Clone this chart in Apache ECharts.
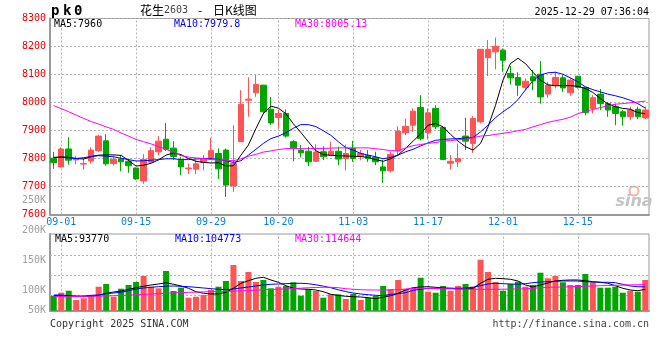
<!DOCTYPE html>
<html><head><meta charset="utf-8">
<script src="https://cdn.jsdelivr.net/npm/echarts@6/dist/echarts.min.js"></script>
<style>html,body{margin:0;padding:0;background:#fff}#c{width:660px;height:360px}</style>
</head><body><div id="c"></div>
<script>
const dates = ['08-29',
 '09-01','09-02','09-03','09-04','09-05','09-08','09-09','09-10','09-11','09-12','09-15','09-16','09-17','09-18','09-19','09-22','09-23','09-24','09-25','09-26','09-29','09-30',
 '10-09','10-10','10-13','10-14','10-15','10-16','10-17','10-20','10-21','10-22','10-23','10-24','10-27','10-28','10-29','10-30','10-31',
 '11-03','11-04','11-05','11-06','11-07','11-10','11-11','11-12','11-13','11-14','11-17','11-18','11-19','11-20','11-21','11-24','11-25','11-26','11-27','11-28',
 '12-01','12-02','12-03','12-04','12-05','12-08','12-09','12-10','12-11','12-12','12-15','12-16','12-17','12-18','12-19','12-22','12-23','12-24','12-25','12-26'];
const dateLabels = ['09-01','09-15','09-29','10-20','11-03','11-17','12-01','12-15'];

const opens = [7801,7770,7834,7795,7780,7791,7828,7863,7782,7798,
 7790,7766,7720,7787,7824,7869,7837,7794,7763,7762,
 7786,7801,7818,7830,7702,7860,8008,8035,8062,7976,
 7946,7961,7860,7830,7826,7790,7824,7812,7826,7800,
 7836,7808,7811,7804,7770,7756,7827,7892,7919,7982,
 7892,7979,7911,7783,7788,7880,7854,7931,8160,8181,
 8187,8104,8089,8054,8092,8101,8030,8060,8088,8035,
 8094,8054,7979,8030,7996,7985,7967,7949,7976,7945];
const closes = [7785,7834,7794,7798,7782,7830,7880,7781,7797,7788,
 7774,7727,7797,7828,7862,7833,7807,7770,7766,7781,
 7800,7828,7763,7705,7782,7994,8012,8065,7967,7927,
 7961,7880,7838,7820,7788,7823,7806,7826,7798,7818,
 7800,7818,7800,7788,7756,7815,7898,7915,7969,7871,
 7963,7913,7796,7790,7800,7862,7943,8190,8190,8201,
 8151,8088,8062,8076,8077,8020,8062,8089,8052,8080,
 8054,7964,8017,7996,7973,7961,7949,7973,7949,7973];
const lows = [7763,7769,7778,7780,7760,7782,7824,7774,7775,7754,
 7749,7724,7710,7782,7811,7827,7795,7740,7744,7744,
 7758,7798,7727,7663,7681,7860,7949,8020,7960,7919,
 7907,7875,7790,7804,7773,7790,7794,7812,7776,7758,
 7788,7794,7788,7776,7713,7750,7812,7883,7895,7865,
 7868,7905,7796,7761,7770,7830,7820,7925,8094,8118,
 8110,8064,8024,8044,8044,7996,8017,8050,8038,8024,
 8050,7955,7961,7973,7949,7919,7917,7937,7940,7940];
const highs = [7824,7840,7876,7810,7800,7840,7884,7887,7812,7812,
 7800,7768,7815,7840,7880,7927,7862,7806,7782,7794,
 7812,7874,7836,7836,7919,8044,8090,8098,8063,8020,
 7973,7975,7865,7848,7842,7851,7844,7860,7842,7850,
 7863,7830,7830,7824,7794,7824,7915,7943,7979,8026,
 7979,7990,7913,7812,7854,7946,7951,8190,8223,8232,
 8193,8130,8108,8086,8116,8148,8074,8110,8098,8089,
 8094,8054,8026,8048,8002,7996,7973,7985,7985,7985];

const ma5 = [7804,7806,7804,7800,7798,7807,7812,7813,7813,7811,
 7793,7773,7776,7783,7795,7812,7820,7814,7800,7790,
 7786,7784,7785,7773,7774,7812,7848,7907,7961,7987,
 7980,7960,7924,7893,7860,7828,7814,7811,7810,7809,
 7808,7807,7804,7796,7790,7799,7813,7836,7862,7888,
 7919,7925,7913,7886,7862,7842,7830,7854,7913,7990,
 8080,8139,8158,8139,8108,8080,8063,8060,8060,8060,
 8058,8050,8036,8014,7995,7985,7979,7976,7964,7960];
const ma10 = [7803,7804,7802,7800,7803,7807,7810,7808,7806,7801,
 7796,7791,7792,7794,7796,7799,7799,7796,7796,7798,
 7800,7799,7797,7792,7786,7792,7812,7833,7854,7871,
 7880,7892,7908,7921,7921,7914,7899,7883,7860,7839,
 7830,7818,7812,7806,7799,7804,7812,7824,7833,7845,
 7856,7865,7868,7870,7871,7873,7875,7895,7919,7946,
 7967,7985,8010,8045,8078,8098,8106,8108,8101,8088,
 8074,8056,8046,8038,8030,8024,8017,8008,7996,7980];
const ma30 = [7989,7978,7967,7955,7943,7932,7923,7913,7904,7891,
 7880,7868,7860,7852,7843,7833,7822,7810,7805,7802,
 7800,7796,7795,7794,7792,7799,7808,7815,7823,7827,
 7832,7835,7836,7835,7835,7836,7836,7837,7838,7838,
 7838,7838,7838,7835,7832,7828,7828,7838,7846,7850,
 7854,7857,7862,7864,7867,7869,7874,7880,7882,7886,
 7890,7894,7899,7904,7913,7921,7929,7935,7940,7948,
 7960,7969,7975,7982,7988,7994,7996,7999,8002,8005];

const volumes = [66000,79200,88000,47000,54600,64700,105600,117500,61600,96800,
 113100,126300,152700,105600,98600,174700,86700,101200,57200,61600,
 69100,91100,105600,130700,201100,130700,170300,126300,135100,98600,
 105600,108700,125000,66000,94200,86700,57200,72200,72200,51500,
 73500,47100,57200,64700,108700,95500,135100,95500,101200,145200,
 83600,79200,108700,88000,108700,117500,105600,224400,170300,126300,
 88000,117500,127600,105600,113100,167200,142600,152700,125000,113100,
 113100,161500,125000,101200,101200,105600,79200,88000,83600,135100];
const volMa5 = [66000,66000,64700,62900,61600,64700,67800,76600,82300,86700,
 94200,101200,107400,113100,117500,123200,116200,108700,98600,83600,
 76600,73500,73500,81000,98600,120600,132000,142600,147000,135100,
 125000,110000,98600,95500,94200,91100,83600,72200,67300,63400,
 61600,60300,57200,52800,59000,66000,76600,91100,101200,104300,
 105600,103000,99900,98600,96800,95500,98600,120600,138200,142600,
 140800,138200,130700,113100,104300,113100,121900,130700,133800,135100,
 135100,132000,127600,125000,120600,110000,98600,91100,88000,93770];
const volMa10 = [69100,69100,66000,64700,64700,67800,69100,74800,77900,81000,
 88000,95500,99900,103000,105600,107400,108700,107400,105600,103000,
 99900,96800,94200,92400,95500,99900,104300,108700,113100,116200,
 117500,118800,120600,120600,118800,114000,108000,101000,92000,84000,
 77900,73500,70400,67800,66000,72200,74800,79200,89800,94200,
 98600,98600,98600,98600,98600,99900,103000,110000,117500,120600,
 118800,117500,116200,118800,123200,126300,127600,129400,130700,130700,
 130700,127600,126300,125000,125000,123200,116200,108700,105600,104773];
const volMa30 = [61600,61600,62000,62500,62900,63400,64200,65100,66000,66900,
 68200,70000,71700,73500,75200,77000,78300,79600,81000,81800,
 82700,83600,84500,85400,86200,87100,88400,90200,92000,93300,
 94600,95900,97700,99000,100800,102100,103000,103000,101200,96800,
 94200,92400,91100,91100,91100,91100,92400,95500,98600,98600,
 98600,97700,96800,95900,95500,94600,94200,94200,94200,94200,
 94600,95000,95500,95900,98600,101200,102500,103400,104300,105200,
 106500,107400,108700,110000,110900,111800,112600,113500,114400,114644];

const priceMin = 7600, priceMax = 8300, priceStep = 100;
const volMax = 337500;
const volGridValues = [66000, 154000, 242000];
const volTickLabels = ['50K','100K','150K','200K','250K'];

const UP = '#ff5454', DOWN = '#00a600';
const MONO = 'DejaVu Sans Mono';
const GRIDC = '#b4b4b4';
const FRAME = '#9a9a9a';

const chart = echarts.init(document.getElementById('c'), null, {renderer: 'canvas'});

const dateLines = dateLabels.map(d => ({xAxis: d}));
const dotted = {type: [2, 2], color: GRIDC, width: 1};

function txt(x, y, text, fill, font, align) {
  return {type: 'text', x: x, y: y, silent: true, z: 100,
    style: {text: text, fill: fill, font: font, align: align || 'left', verticalAlign: 'middle',
            textAlign: align || 'left', textVerticalAlign: 'middle'}};
}

const option = {
  animation: false,
  backgroundColor: '#fff',
  grid: [
    {left: 50, width: 599, top: 18.5, height: 196, show: true, borderColor: FRAME, borderWidth: 1, backgroundColor: 'transparent'},
    {left: 50, width: 599, top: 234, height: 76.7, show: true, borderColor: FRAME, borderWidth: 1, backgroundColor: 'transparent'},
    {left: 50, width: 10, top: 200, height: 120.5, show: false}
  ],
  xAxis: [
    {type: 'category', gridIndex: 0, data: dates, boundaryGap: true,
     axisLine: {show: true, lineStyle: {color: FRAME, width: 2}},
     axisTick: {show: false},
     axisLabel: {color: '#0a7fd8', fontFamily: MONO, fontSize: 10, margin: 3,
       interval: (i, v) => dateLabels.indexOf(v) >= 0},
     splitLine: {show: false}},
    {type: 'category', gridIndex: 1, data: dates, boundaryGap: true,
     axisLine: {show: true, lineStyle: {color: FRAME, width: 2}},
     axisTick: {show: false}, axisLabel: {show: false}, splitLine: {show: false}},
    {type: 'value', gridIndex: 2, show: false, min: 0, max: 1}
  ],
  yAxis: [
    {type: 'value', gridIndex: 0, min: priceMin, max: priceMax, interval: priceStep,
     axisLine: {show: true, lineStyle: {color: FRAME, width: 2}},
     axisTick: {show: false},
     axisLabel: {color: '#ee0000', fontFamily: MONO, fontSize: 10, margin: 4,
       formatter: v => String(v)},
     splitLine: {show: true, lineStyle: dotted}},
    {type: 'value', gridIndex: 1, min: 0, max: volMax,
     axisLine: {show: true, lineStyle: {color: FRAME, width: 2}},
     axisTick: {show: false}, axisLabel: {show: false}, splitLine: {show: false}},
    {type: 'value', gridIndex: 2, min: 50000, max: 250000, interval: 50000,
     axisLine: {show: false}, axisTick: {show: false}, splitLine: {show: false},
     axisLabel: {color: '#a0a0a0', fontFamily: MONO, fontSize: 10, margin: 4,
       formatter: v => {
         const t = volTickLabels[Math.round((v - 50000) / 50000)];
         return v === 50000 ? '{lo|' + t + '}' : t;
       },
       rich: {lo: {color: '#a0a0a0', fontFamily: MONO, fontSize: 10, padding: [0, 0, 20, 0]}}}}
  ],
  series: [
    {type: 'candlestick', name: 'K', xAxisIndex: 0, yAxisIndex: 0, barWidth: 6,
     data: dates.map((d, i) => [opens[i], closes[i], lows[i], highs[i]]),
     itemStyle: {color: UP, color0: DOWN, borderColor: UP, borderColor0: DOWN, borderWidth: 1},
     markLine: {silent: true, symbol: ['none', 'none'], z: 1, label: {show: false},
       lineStyle: dotted, emphasis: {disabled: true}, data: dateLines}},
    {type: 'line', name: 'MA5', xAxisIndex: 0, yAxisIndex: 0, data: ma5, showSymbol: false, symbol: 'none',
     lineStyle: {color: '#000', width: 1}, z: 3},
    {type: 'line', name: 'MA10', xAxisIndex: 0, yAxisIndex: 0, data: ma10, showSymbol: false, symbol: 'none',
     lineStyle: {color: '#0000ff', width: 1}, z: 3},
    {type: 'line', name: 'MA30', xAxisIndex: 0, yAxisIndex: 0, data: ma30, showSymbol: false, symbol: 'none',
     lineStyle: {color: '#ff00ff', width: 1}, z: 3},
    {type: 'bar', name: 'VOL', xAxisIndex: 1, yAxisIndex: 1, barWidth: 6,
     data: volumes.map((v, i) => ({value: v, itemStyle: {color: closes[i] >= opens[i] ? UP : DOWN}})),
     markLine: {silent: true, symbol: ['none', 'none'], z: 1, label: {show: false},
       lineStyle: dotted, emphasis: {disabled: true},
       data: dateLines.concat(volGridValues.map(v => ({yAxis: v})))}},
    {type: 'line', name: 'VMA5', xAxisIndex: 1, yAxisIndex: 1, data: volMa5, showSymbol: false, symbol: 'none',
     lineStyle: {color: '#000', width: 1}, z: 3},
    {type: 'line', name: 'VMA10', xAxisIndex: 1, yAxisIndex: 1, data: volMa10, showSymbol: false, symbol: 'none',
     lineStyle: {color: '#0000ff', width: 1}, z: 3},
    {type: 'line', name: 'VMA30', xAxisIndex: 1, yAxisIndex: 1, data: volMa30, showSymbol: false, symbol: 'none',
     lineStyle: {color: '#ff00ff', width: 1}, z: 3}
  ],
  graphic: [
    txt(51, 11, 'p', '#000', 'bold 14px ' + MONO),
    txt(63, 11, 'k', '#000', 'bold 14px ' + MONO),
    txt(74, 11, '0', '#000', 'bold 14px ' + MONO),
    txt(140, 10, '花生', '#000', '12px "Noto Sans CJK SC"'),
    txt(164, 10, '2603', '#444', '10px ' + MONO),
    txt(200, 10, '-', '#000', '12px "Noto Sans CJK SC"', 'center'),
    txt(213, 10, '日K线图', '#000', '12px "Noto Sans CJK SC"'),
    txt(649, 12, '2025-12-29 07:36:04', '#000', '10px ' + MONO, 'right'),
    txt(54, 24, 'MA5:' + ma5[ma5.length - 1], '#000', '10px ' + MONO),
    txt(174, 24, 'MA10:7979.8', '#0000ff', '10px ' + MONO),
    txt(295, 24, 'MA30:8005.13', '#ff00ff', '10px ' + MONO),
    txt(55, 239, 'MA5:' + volMa5[volMa5.length - 1], '#000', '10px ' + MONO),
    txt(175, 239, 'MA10:' + volMa10[volMa10.length - 1], '#0000ff', '10px ' + MONO),
    txt(295, 239, 'MA30:' + volMa30[volMa30.length - 1], '#ff00ff', '10px ' + MONO),
    txt(50, 324, 'Copyright 2025 SINA.COM', '#333', '10px ' + MONO),
    txt(649, 324, 'http://finance.sina.com.cn', '#444', '10px ' + MONO, 'right'),
    {type: 'circle', shape: {cx: 634, cy: 191, r: 4.5}, silent: true, z: 0,
     style: {fill: 'none', stroke: '#f2b0b0', lineWidth: 2}},
    txt(634, 202, 'sina', '#c4c4c4', 'italic bold 16px "DejaVu Sans"', 'center')
  ]
};
chart.setOption(option);
</script>
</body></html>
